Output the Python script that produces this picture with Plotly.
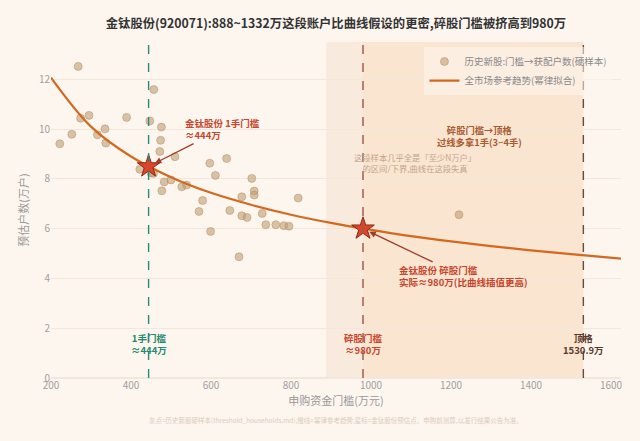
import plotly.graph_objects as go

# historical samples: threshold (万元) -> households (万户)
hist_x = [268, 222, 252, 274, 295, 316, 335, 337, 389, 447, 457, 476, 474, 472, 510,
          422, 450, 456, 483, 500, 477, 527, 539, 597, 611, 639, 579, 570, 599, 647,
          677, 677, 690, 702, 708, 708, 670, 728, 737, 762, 782, 795, 818, 1220]
hist_y = [12.52, 9.41, 9.79, 10.44, 10.55, 9.77, 10.01, 9.44, 10.47, 10.33, 11.59, 10.08, 9.55, 9.1, 8.89,
          8.39, 8.24, 8.22, 7.88, 7.96, 7.52, 7.68, 7.75, 8.63, 8.14, 8.82, 7.13, 6.69, 5.89, 6.73,
          7.28, 6.52, 6.45, 8.02, 7.51, 7.35, 4.87, 6.61, 6.16, 6.16, 6.12, 6.1, 7.23, 6.56]

# power-law reference trend
trend_x = [200, 300, 400, 500, 600, 700, 800, 900, 1000, 1100, 1200, 1300, 1400, 1500, 1625]
trend_y = [12.07, 10.1, 8.9, 8.07, 7.44, 6.96, 6.56, 6.23, 5.95, 5.7, 5.49, 5.3, 5.13, 4.98, 4.8]

# 金钛股份 estimates
star_x = [444, 980]
star_y = [8.5, 6.0]

one_lot = 444
odd_lot = 980
top_grid = 1530.9
dense_lo, dense_hi = 888, 1332

FONT = "Noto Sans CJK SC"
BG = "#fdf6ef"

fig = go.Figure()

fig.add_trace(go.Scatter(
    x=hist_x, y=hist_y, mode="markers", name="历史新股:门槛→获配户数(硬样本)",
    marker=dict(size=8, color="rgba(196,160,118,0.62)",
                line=dict(width=0.8, color="rgba(170,135,95,0.55)"))
))
fig.add_trace(go.Scatter(
    x=trend_x, y=trend_y, mode="lines", name="全市场参考趋势(幂律拟合)",
    line=dict(color="#d2691e", width=2.2, shape="spline")
))
fig.add_trace(go.Scatter(
    x=star_x, y=star_y, mode="markers", showlegend=False,
    marker=dict(symbol="star", size=17, color="#d9472b",
                line=dict(width=1, color="#8b2a1a"))
))

# shaded bands
fig.add_vrect(x0=dense_lo, x1=dense_hi, fillcolor="#f8ebde", opacity=1,
              line_width=0, layer="below")
fig.add_vrect(x0=odd_lot, x1=top_grid, fillcolor="#fae5d1", opacity=1,
              line_width=0, layer="below")

# threshold lines
for xv, col in [(one_lot, "#2a8a78"), (odd_lot, "#a0563c"), (top_grid, "#6b4a3a")]:
    fig.add_vline(x=xv, line=dict(color=col, width=1.4, dash="dash"))

# bottom labels
for xv, txt, col in [(one_lot, "1手门槛<br>≈444万", "#1f8a70"),
                     (odd_lot, "碎股门槛<br>≈980万", "#c8442a"),
                     (top_grid, "顶格<br>1530.9万", "#5a3a2a")]:
    fig.add_annotation(x=xv, y=1.37, text="<b>%s</b>" % txt, showarrow=False,
                       font=dict(size=9.5, color=col, family=FONT))

fig.add_annotation(x=star_x[0], y=star_y[0], ax=628, ay=10.0, axref="x", ayref="y",
                   text="<b>金钛股份 1手门槛<br>≈444万</b>", align="left",
                   showarrow=True, arrowhead=2, arrowsize=1, arrowwidth=1.3,
                   arrowcolor="#a03c2a", standoff=7,
                   font=dict(size=9.5, color="#c8442a", family=FONT))
fig.add_annotation(x=star_x[1], y=star_y[1], ax=1230, ay=4.08, axref="x", ayref="y",
                   text="<b>金钛股份 碎股门槛<br>实际≈980万(比曲线插值更高)</b>", align="left",
                   showarrow=True, arrowhead=2, arrowsize=1, arrowwidth=1.3,
                   arrowcolor="#a03c2a", standoff=7,
                   font=dict(size=9.5, color="#c8442a", family=FONT))
fig.add_annotation(x=1270, y=9.72, text="<b>碎股门槛→顶格<br>过线多拿1手(3~4手)</b>",
                   showarrow=False, font=dict(size=9.3, color="#a85a30", family=FONT))
fig.add_annotation(x=1110, y=8.66,
                   text="这段样本几乎全是「至少N万户」<br>的区间/下界,曲线在这段失真",
                   showarrow=False, font=dict(size=8.3, color="#bfa58c", family=FONT))

fig.add_annotation(x=0.5, y=-0.125, xref="paper", yref="paper", yanchor="middle",
                   showarrow=False,
                   text="灰点=历史新股硬样本(threshold_households.md);橙线=幂律参考趋势;星标=金钛股份预估点。申购前测算,以发行结果公告为准。",
                   font=dict(size=6.5, color="#dccbbb", family=FONT))

fig.update_layout(
    width=640, height=441,
    margin=dict(l=51, r=19, t=42, b=63),
    paper_bgcolor=BG, plot_bgcolor=BG,
    font=dict(family=FONT, color="#888"),
    title=dict(text="<b>金钛股份(920071):888~1332万这段账户比曲线假设的更密,碎股门槛被挤高到980万</b>",
               x=0.5, xref="paper", xanchor="center", y=0.947, yanchor="middle",
               font=dict(size=12.3, color="#333", family=FONT)),
    legend=dict(x=0.985, y=0.985, xanchor="right", yanchor="top",
                bgcolor="rgba(253,246,239,0.55)", borderwidth=0,
                font=dict(size=9.5, color="#8a8a8a", family=FONT),
                tracegroupgap=0, itemwidth=30),
    xaxis=dict(range=[200, 1625], dtick=200, showgrid=False, zeroline=False,
               showline=False, ticks="", automargin=False,
               tickfont=dict(size=10, color="#a0a0a0"),
               title=dict(text="申购资金门槛(万元)", font=dict(size=11, color="#999"),
                          standoff=4)),
    yaxis=dict(range=[0, 13.5], dtick=2, gridcolor="#f1e7dc", gridwidth=1,
               zeroline=True, zerolinecolor="#f1e7dc", showline=False, ticks="",
               automargin=False,
               tickfont=dict(size=10, color="#a0a0a0"),
               title=dict(text="预估户数(万户)", font=dict(size=11, color="#999"),
                          standoff=8)),
)

fig.write_html("out.html", config={"displayModeBar": False}, post_script=(
    "document.body.style.margin='0';"
    "document.body.style.background='%s';" % BG
))
